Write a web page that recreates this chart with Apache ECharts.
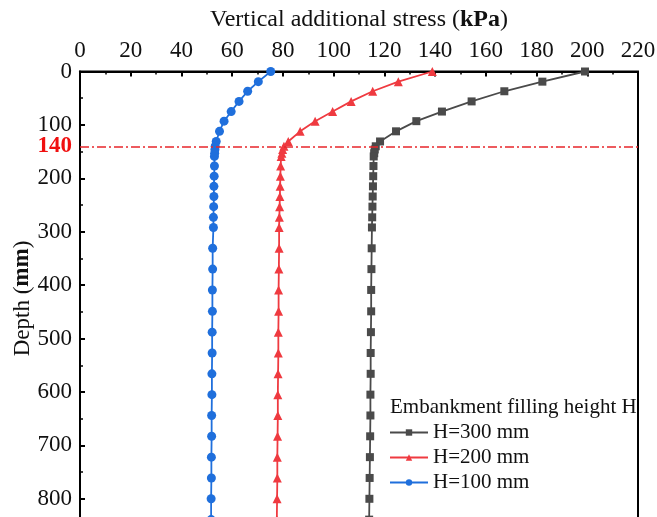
<!DOCTYPE html>
<html>
<head>
<meta charset="utf-8">
<script src="https://cdn.jsdelivr.net/npm/echarts@6/dist/echarts.min.js"></script>
<style>html,body{margin:0;padding:0;background:#fff}#c{width:657px;height:517px}</style>
</head>
<body>
<div id="c"></div>
<script>
const depths = [0,19,37,56,75,93,112,131,140,146,153,159,177,196,215,234,253,273,292,331,370,409,449,488,527,566,605,644,683,722,761,800,839,878];
const h300 = [199.1,182.3,167.3,154.4,142.7,132.6,124.6,118.3,116.6,116.2,116.0,115.8,115.7,115.6,115.5,115.4,115.3,115.2,115.1,115.0,114.9,114.8,114.8,114.7,114.6,114.6,114.5,114.5,114.4,114.3,114.2,114.1,114.0,114.0];
const h200 = [138.9,125.5,115.4,106.9,99.6,92.7,86.8,82.1,80.4,79.9,79.6,79.3,79.1,79.0,78.9,78.8,78.7,78.6,78.5,78.5,78.4,78.3,78.3,78.2,78.2,78.1,78.0,78.0,77.9,77.8,77.8,77.7,77.6,77.6];
const h100 = [75.2,70.3,66.1,62.7,59.6,56.8,55.0,53.7,53.3,53.2,53.1,53.0,53.0,52.9,52.8,52.8,52.7,52.6,52.6,52.3,52.3,52.2,52.2,52.1,52.1,52.0,52.0,51.9,51.9,51.8,51.8,51.7,51.7,51.6];
const xTicks = [0,20,40,60,80,100,120,140,160,180,200,220];
const yTickLabels = [0,100,140,200,300,400,500,600,700,800];
const yMajorTicks = [0,100,200,300,400,500,600,700,800];
const seriesNames = ['H=300 mm','H=200 mm','H=100 mm'];
const refDepth = 140;

const font = 'Liberation Serif';
const pair = (xs) => xs.map((v,i) => [v, depths[i]]);

const chart = echarts.init(document.getElementById('c'));
chart.setOption({
  animation: false,
  textStyle: {fontFamily: font},
  grid: {left: 80, top: 71.5, width: 558, height: 454, outerBoundsMode: 'none', containLabel: false, show: true, borderColor: '#000', borderWidth: 2, backgroundColor: 'transparent'},
  title: {text: 'Embankment filling height H', left: 385, top: 392, textStyle: {fontFamily: font, fontSize: 21, fontWeight: 'normal', color: '#111'}},
  legend: {
    orient: 'vertical', left: 384, top: 417, itemGap: 4, itemWidth: 38, itemHeight: 8,
    textStyle: {fontFamily: font, fontSize: 21, color: '#111'},
    data: seriesNames
  },
  xAxis: {
    type: 'value', position: 'top', min: 0, max: 220, interval: 20,
    name: '{a|Vertical additional stress (}{b|kPa}{a|)}', nameLocation: 'middle', nameGap: 40,
    nameTextStyle: {rich: {a: {fontFamily: font, fontSize: 24, color: '#111'}, b: {fontFamily: font, fontSize: 24, fontWeight: 'bold', color: '#111'}}},
    axisLine: {show: true, lineStyle: {color: '#000', width: 2}},
    axisTick: {show: true, inside: true, length: 5, lineStyle: {color: '#000', width: 2}},
    minorTick: {show: true, splitNumber: 2, length: 3, lineStyle: {color: '#000', width: 1.5}},
    axisLabel: {fontFamily: font, fontSize: 23, color: '#111', margin: 9, customValues: xTicks},
    splitLine: {show: false}
  },
  yAxis: {
    type: 'value', inverse: true, min: 0, max: 850, interval: 100,
    name: '{a|Depth (}{b|mm}{a|)}', nameLocation: 'middle', nameGap: 46, nameMoveOverlap: false,
    nameTextStyle: {rich: {a: {fontFamily: font, fontSize: 23, color: '#111'}, b: {fontFamily: font, fontSize: 23, fontWeight: 'bold', color: '#111'}}},
    axisLine: {show: true, lineStyle: {color: '#000', width: 2}},
    axisTick: {show: true, inside: true, length: 5, customValues: yMajorTicks, lineStyle: {color: '#000', width: 2}},
    minorTick: {show: true, splitNumber: 2, length: 3, lineStyle: {color: '#000', width: 1.5}},
    axisLabel: {
      fontFamily: font, fontSize: 23, color: '#111', margin: 8, customValues: yTickLabels,
      formatter: (v) => v === refDepth ? '{r|' + v + '}' : String(v),
      rich: {r: {fontFamily: font, fontSize: 23, fontWeight: 'bold', color: '#f01010'}}
    },
    splitLine: {show: false}
  },
  series: [
    {
      name: seriesNames[0], type: 'line', data: pair(h300), symbol: 'rect', symbolSize: 8,
      itemStyle: {color: '#4a4a4a'}, lineStyle: {color: '#4a4a4a', width: 1.8},
      markLine: {silent: true, symbol: 'none', label: {show: false}, lineStyle: {color: '#e8262b', width: 1.5, type: [9,3,2,3]}, data: [{yAxis: refDepth}]}
    },
    {
      name: seriesNames[1], type: 'line', data: pair(h200), symbol: 'triangle', symbolSize: 9,
      itemStyle: {color: '#ef3a40'}, lineStyle: {color: '#ef3a40', width: 1.8}
    },
    {
      name: seriesNames[2], type: 'line', data: pair(h100), symbol: 'circle', symbolSize: 9,
      itemStyle: {color: '#1f6fdc'}, lineStyle: {color: '#1f6fdc', width: 1.8}
    }
  ]
});
</script>
</body>
</html>
